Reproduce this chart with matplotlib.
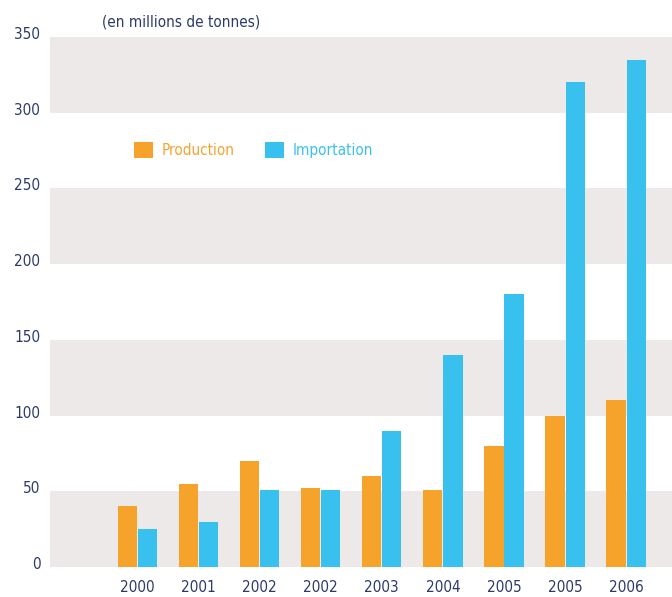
import matplotlib
matplotlib.use("Agg")
import matplotlib.pyplot as plt
from matplotlib.transforms import ScaledTranslation
import numpy as np

# data
years = ["2000", "2001", "2002", "2002", "2003", "2004", "2005", "2005", "2006"]
production = [40, 55, 70, 52, 60, 51, 80, 100, 110]
importation = [25, 30, 51, 51, 90, 140, 180, 320, 335]
yticks = [0, 50, 100, 150, 200, 250, 300, 350]

orange = "#F6A32B"
blue = "#38C1EF"
band = "#EDE9E8"
navy = "#2B3A6B"

plt.rcParams['font.family'] = ['DejaVu Sans']
plt.rcParams['font.stretch'] = 'condensed'

fig = plt.figure(figsize=(6.72, 5.97), dpi=100)
ax = fig.add_axes([50 / 672, 30 / 597, 622 / 672, 530 / 597])

# alternating background bands
for lo in yticks[::2]:
    ax.axhspan(lo, lo + 50, color=band, lw=0, zorder=0)

x = np.arange(len(years))
w = 0.315
ax.bar(x - 0.165, production, width=w, color=orange, zorder=2, label="Production")
ax.bar(x + 0.165, importation, width=w, color=blue, zorder=2, label="Importation")

ax.set_xlim(-1.43, 8.75)
ax.set_ylim(0, 350)
ax.set_xticks(x)
ax.set_xticklabels(years)
ax.set_yticks(yticks)
ax.tick_params(length=0, colors=navy, labelsize=11)
ax.tick_params(axis='x', pad=9)
ax.tick_params(axis='y', pad=7)
for s in ax.spines.values():
    s.set_visible(False)
# y labels sit a little above their line
for lab in ax.get_yticklabels():
    lab.set_transform(lab.get_transform() + ScaledTranslation(0, 4 / 100, fig.dpi_scale_trans))

leg = ax.legend(loc="center left", bbox_to_anchor=(84 / 622, 0.787), ncol=2, frameon=False,
                fontsize=11, handlelength=1.25, handleheight=1.25, columnspacing=2.0,
                handletextpad=0.55, borderpad=0, borderaxespad=0)
for txt, c in zip(leg.get_texts(), [orange, blue]):
    txt.set_color(c)

fig.text(102 / 672, 1 - 22 / 597, "(en millions de tonnes)", color=navy,
         fontsize=11, va="center", ha="left")

fig.savefig("out.png", dpi=100)
